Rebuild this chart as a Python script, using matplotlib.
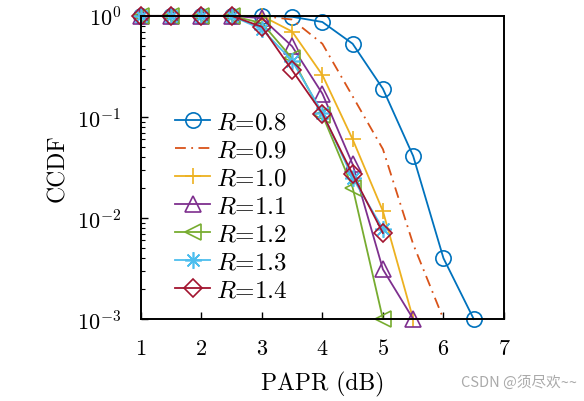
import matplotlib
matplotlib.use('Agg')
import matplotlib.pyplot as plt
import numpy as np

plt.rcParams['font.family'] = 'serif'
plt.rcParams['font.serif'] = ['cmr10']
plt.rcParams['mathtext.fontset'] = 'cm'
plt.rcParams['axes.formatter.use_mathtext'] = True

# PAPR thresholds (dB)
papr = [1, 1.5, 2, 2.5, 3, 3.5, 4, 4.5, 5, 5.5, 6, 6.5]

# CCDF values for each clipping ratio R
ccdf_08 = [1, 1, 1, 1, 1, 0.98, 0.87, 0.53, 0.19, 0.041, 0.004, 0.001]
ccdf_09 = [1, 1, 1, 1, 1, 0.92, 0.53, 0.16, 0.048, 0.0055, 0.001]
ccdf_10 = [1, 1, 1, 1, 1, 0.70, 0.26, 0.060, 0.0117, 0.001]
ccdf_11 = [1, 1, 1, 1, 0.95, 0.50, 0.17, 0.034, 0.0031, 0.001]
ccdf_12 = [1, 1, 1, 1, 0.85, 0.38, 0.105, 0.020, 0.001]
ccdf_13 = [1, 1, 1, 1, 0.74, 0.36, 0.11, 0.025, 0.0078]
ccdf_14 = [1, 1, 1, 1, 0.78, 0.29, 0.108, 0.027, 0.0071]

labels = ['0.8', '0.9', '1.0', '1.1', '1.2', '1.3', '1.4']
series = [ccdf_08, ccdf_09, ccdf_10, ccdf_11, ccdf_12, ccdf_13, ccdf_14]
colors = ['#0072BD', '#D95319', '#EDB120', '#7E2F8E', '#77AC30', '#4DBEEE', '#A2142F']
markers = ['o', None, '+', '^', '<', (8, 2, 0), 'D']
styles = ['-', (0, (6, 3, 1, 3)), '-', '-', '-', '-', '-']
sizes = [11, 11, 12, 11, 11, 12, 9]

fig = plt.figure(figsize=(5.84, 4.02), dpi=100)
ax = fig.add_axes([0.241, 0.204, 0.622, 0.754])

for vals, lab, c, m, ls, ms in zip(series, labels, colors, markers, styles, sizes):
    ax.semilogy(papr[:len(vals)], vals, linestyle=ls, color=c, marker=m,
                markersize=ms, markerfacecolor='none', markeredgewidth=1.2,
                linewidth=1.3, label=r'$R$=' + lab, clip_on=False)

ax.set_xlim(1, 7)
ax.set_ylim(1e-3, 1)
ax.set_xticks([1, 2, 3, 4, 5, 6, 7])
ax.tick_params(which='both', direction='in', labelsize=16)
ax.tick_params(which='major', length=5, width=1.0)
ax.tick_params(which='minor', length=3, width=0.8)
ax.tick_params(axis='x', pad=14)
ax.tick_params(axis='y', pad=14)
for s in ax.spines.values():
    s.set_linewidth(1.4)
    s.set_color('black')

ax.set_xlabel('PAPR (dB)', fontsize=17, labelpad=9)
ax.set_ylabel('CCDF', fontsize=17, labelpad=6)

ax.legend(loc='upper left', bbox_to_anchor=(0.06, 0.728), frameon=False,
          fontsize=18, handlelength=1.4, handletextpad=0.25,
          labelspacing=0.22, borderpad=0)

fig.text(0.988, 0.03, 'CSDN @须尽欢~~', ha='right', va='bottom',
         fontsize=10.5, color='#aaaaaa', family=['Noto Sans CJK SC', 'DejaVu Sans'])

fig.savefig('out.png', dpi=100)
